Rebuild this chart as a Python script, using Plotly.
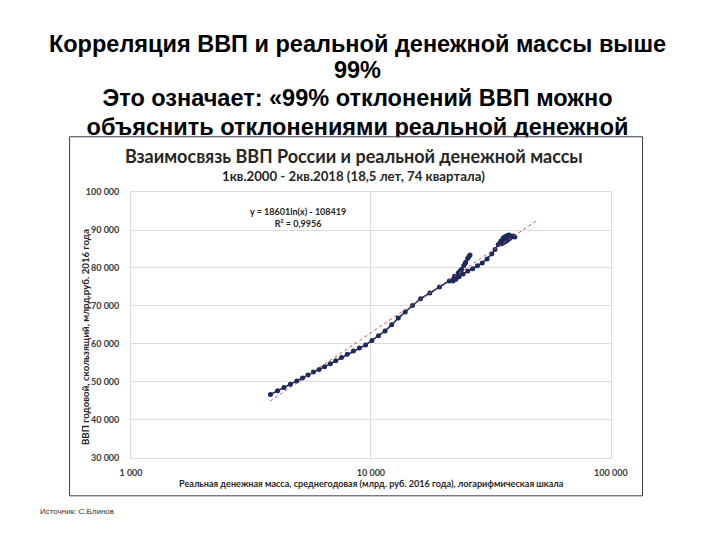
import math
import plotly.graph_objects as go

# ---------------- data ----------------
money = [3811, 4083, 4340, 4613, 4909, 5188, 5464, 5754, 6081, 6410, 6773, 7132, 7541, 7966,
         8450, 8950, 9500, 10100, 10750, 11450, 12200, 13000, 13900, 14900, 16100, 17600, 19300, 21200,
         22300, 23120, 23850, 24380, 24830, 25300, 25880,
         25600, 24700, 23500, 22400, 22000,
         22600, 23300, 24210, 25330, 26550, 27800, 29100, 30480, 31920, 32900, 33950, 34780, 35550,
         36300, 36900, 37500,
         37800, 37200, 36500, 35800, 35200, 34800, 34600, 35000, 35400, 35900, 36300, 36800, 37300,
         37800, 38300, 38800, 39200, 39800]
gdp = [46630, 47660, 48510, 49360, 50230, 51000, 51780, 52550, 53220, 53990, 54760, 55530, 56400, 57250,
       58100, 58900, 59700, 60900, 62100, 63400, 65000, 66800, 68400, 70100, 71900, 73400, 75000, 76600,
       77800, 78700, 79600, 80650, 81500, 82500, 83450,
       83000, 81200, 79200, 77400, 76600,
       77000, 77700, 78400, 79200, 79800, 80600, 81300, 82400, 83700, 84900, 86200, 87100, 87900,
       88300, 88500, 88700,
       88600, 88300, 87900, 87500, 87100, 86800, 86500, 86400, 86600, 86800, 87000, 87200, 87500,
       87800, 88100, 88300, 88400, 88200]

trend_a = 18601
trend_b = -108419
trend_x = [3800, 5000, 7000, 10000, 15000, 20000, 30000, 40000, 49000]

y_ticks = [30000, 40000, 50000, 60000, 70000, 80000, 90000, 100000]
y_ticktext = ["30 000", "40 000", "50 000", "60 000", "70 000", "80 000", "90 000", "100 000"]
x_ticks = [1000, 10000, 100000]
x_ticktext = ["1 000", "10 000", "100 000"]

title_lines = ["Корреляция ВВП и реальной денежной массы выше",
               "99%",
               "Это означает: «99% отклонений ВВП можно",
               "объяснить отклонениями реальной денежной"]
chart_title = "Взаимосвязь ВВП России и реальной денежной массы"
chart_subtitle = "1кв.2000 - 2кв.2018 (18,5 лет, 74 квартала)"
eq_text = "y = 18601ln(x) - 108419<br>R² = 0,9956"
y_title = "ВВП годовой, скользящий, млрд.руб. 2016 года"
x_title = "Реальная денежная масса, среднегодовая (млрд. руб. 2016 года), логарифмическая шкала"
source = "Источник: С.Блинов"

trend_y = [trend_a * math.log(v) + trend_b for v in trend_x]

W, H = 720, 540
def px(x):
    return x / W
def py(y):
    return 1 - y / H

fig = go.Figure()

fig.add_trace(go.Scatter(
    x=money, y=gdp, mode="lines+markers",
    line=dict(color="#1C2B5C", width=1.6),
    marker=dict(color="#1C2B5C", size=5),
    showlegend=False, xaxis="x", yaxis="y"))

fig.add_trace(go.Scatter(
    x=trend_x, y=trend_y, mode="lines",
    line=dict(color="#C0504D", width=1, dash="dot"),
    showlegend=False, xaxis="x", yaxis="y"))

# slide title lines (the last one is partly hidden behind the chart box)
title_y = [40.5, 67.5, 96.5, 125.5]
fig.add_trace(go.Scatter(
    x=[360] * len(title_lines), y=title_y, mode="text",
    text=title_lines, textposition="middle center",
    textfont=dict(family="Liberation Sans", size=23.5, color="#000000", weight="bold"),
    cliponaxis=True, showlegend=False, hoverinfo="skip",
    xaxis="x2", yaxis="y2"))

tickfont = dict(family="Lato", size=9, color="#3A3A3A", weight="bold")
fig.update_layout(
    width=W, height=H,
    margin=dict(l=0, r=0, t=0, b=0),
    paper_bgcolor="white", plot_bgcolor="white",
    xaxis=dict(type="log", domain=[px(124), px(624)], range=[3, 5],
               tickvals=x_ticks, ticktext=x_ticktext,
               showgrid=True, gridcolor="#DCDCDC", gridwidth=0.8,
               showline=True, linecolor="#DCDCDC", linewidth=0.8, mirror=True,
               zeroline=False, ticks="", ticklabelstandoff=7,
               tickfont=tickfont, anchor="y"),
    yaxis=dict(domain=[py(461), py(190)], range=[30000, 100000],
               tickvals=y_ticks, ticktext=y_ticktext,
               showgrid=True, gridcolor="#DCDCDC", gridwidth=0.8,
               showline=True, linecolor="#DCDCDC", linewidth=0.8, mirror=True,
               zeroline=False, ticks="", ticklabelstandoff=9,
               tickfont=tickfont, anchor="x"),
    xaxis2=dict(domain=[0, 1], range=[0, 720], visible=False, anchor="y2"),
    yaxis2=dict(domain=[py(134), 1], range=[134, 0], visible=False, anchor="x2"),
    shapes=[dict(type="rect", xref="paper", yref="paper",
                 x0=px(60), x1=px(657), y0=py(500), y1=py(133.5),
                 line=dict(color="#3A3A55", width=1), fillcolor="rgba(0,0,0,0)",
                 layer="above")],
    annotations=[
        dict(text="<b>" + chart_title + "</b>", xref="paper", yref="paper",
             x=px(356), y=py(153), xanchor="center", yanchor="middle", showarrow=False,
             font=dict(family="Lato", size=18, color="#262626")),
        dict(text="<b>" + chart_subtitle + "</b>", xref="paper", yref="paper",
             x=px(356), y=py(174), xanchor="center", yanchor="middle", showarrow=False,
             font=dict(family="Lato", size=13.2, color="#262626")),
        dict(text=eq_text, xref="paper", yref="paper",
             x=px(298), y=py(215.5), xanchor="center", yanchor="middle", showarrow=False,
             font=dict(family="Lato", size=9, color="#262626", weight="bold")),
        dict(text="<b>" + y_title + "</b>", xref="paper", yref="paper",
             x=px(76), y=py(338), xanchor="center", yanchor="middle", showarrow=False,
             textangle=-90, font=dict(family="Lato", size=9.7, color="#262626")),
        dict(text="<b>" + x_title + "</b>", xref="paper", yref="paper",
             x=px(375), y=py(487), xanchor="center", yanchor="middle", showarrow=False,
             font=dict(family="Lato", size=9.1, color="#262626")),
        dict(text=source, xref="paper", yref="paper",
             x=px(27), y=py(516), xanchor="left", yanchor="middle", showarrow=False,
             font=dict(family="Liberation Sans", size=8, color="#333333")),
    ],
)

fig.write_html("out.html")
